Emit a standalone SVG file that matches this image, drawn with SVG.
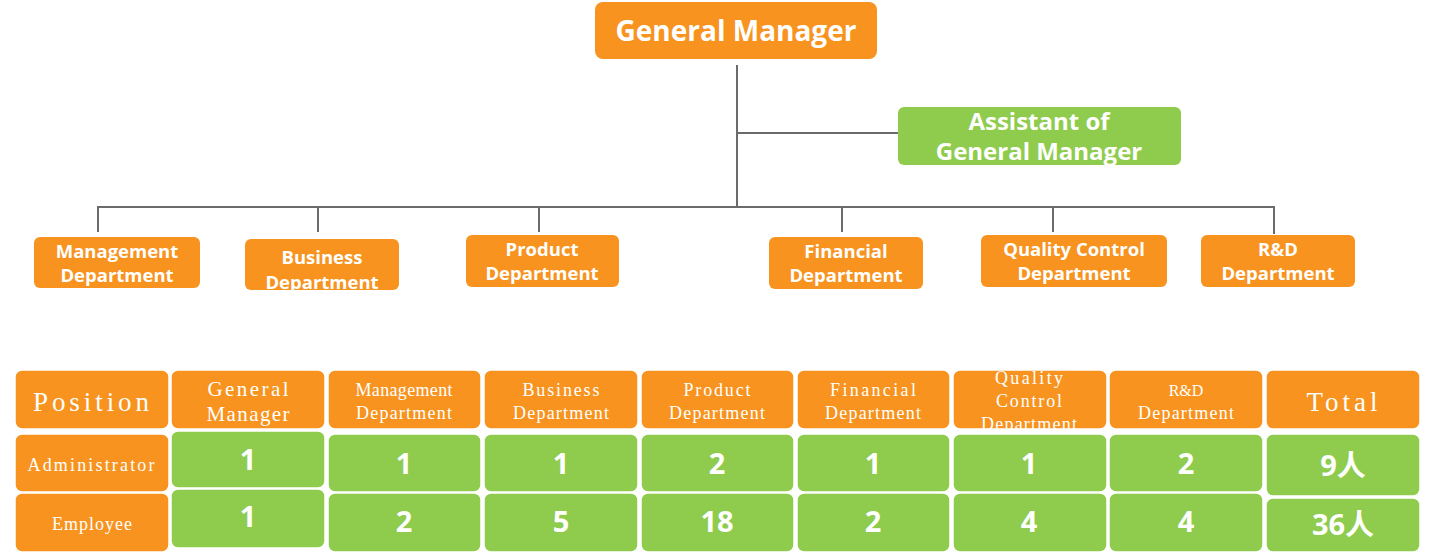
<svg xmlns="http://www.w3.org/2000/svg" width="1440" height="558" viewBox="0 0 1440 558">
<style>
.or{fill:#F7931E}
.gr{fill:#8FCC4D}
.cell{stroke:#ffffff;stroke-width:1.5}
.t{font-family:"Open Sans","Liberation Sans",sans-serif;font-weight:bold;fill:#fff;text-anchor:middle}
.m{font-family:"Liberation Serif","DejaVu Serif",serif;fill:#fff;text-anchor:middle}
.n{font-family:"Open Sans","Noto Sans CJK SC",sans-serif;font-weight:bold;fill:#fff;text-anchor:middle;font-size:29px}
.c{stroke:#6b6b6b;stroke-width:2;fill:none}
</style>
<rect width="1440" height="558" fill="#fff"/>
<g id="connectors">
<path class="c" d="M737 65V207M737 133H898M98 232V207H1274V234M318 207V232M539 207V232M842 207V232M1053 207V232"/>
</g>
<g id="gm"><rect class="or" x="595" y="2" width="282" height="57" rx="8"/><text class="t" x="736" y="41" font-size="28">General Manager</text></g>
<g id="assistant"><rect class="gr" x="898" y="107" width="283" height="58" rx="6"/><text class="t" x="1039" y="130" font-size="24">Assistant of</text><text class="t" x="1039" y="160" font-size="24">General Manager</text></g>
<g id="dept-mgmt"><rect class="or" x="34" y="237" width="166" height="51" rx="6"/><text class="t" x="117" y="258" font-size="18.5">Management</text><text class="t" x="117" y="282" font-size="18.5">Department</text></g>
<g id="dept-bus"><rect class="or" x="245" y="239" width="154" height="51" rx="6"/><text class="t" x="322" y="264" font-size="18.5">Business</text><text class="t" x="322" y="289" font-size="18.5">Department</text></g>
<g id="dept-prod"><rect class="or" x="466" y="235" width="153" height="52" rx="6"/><text class="t" x="542" y="256" font-size="18.5">Product</text><text class="t" x="542" y="280" font-size="18.5">Department</text></g>
<g id="dept-fin"><rect class="or" x="769" y="237" width="154" height="52" rx="6"/><text class="t" x="846" y="258" font-size="18.5">Financial</text><text class="t" x="846" y="282" font-size="18.5">Department</text></g>
<g id="dept-qc"><rect class="or" x="981" y="235" width="186" height="52" rx="6"/><text class="t" x="1074" y="256" font-size="18.5">Quality Control</text><text class="t" x="1074" y="280" font-size="18.5">Department</text></g>
<g id="dept-rd"><rect class="or" x="1201" y="235" width="154" height="52" rx="6"/><text class="t" x="1278" y="256" font-size="18.5">R&amp;D</text><text class="t" x="1278" y="280" font-size="18.5">Department</text></g>

<g id="table">
<g id="h-pos"><rect class="or cell" x="15" y="370" width="154" height="59" rx="7"/><text class="m" x="91" y="411" font-size="27" textLength="116" lengthAdjust="spacing">Position</text></g>
<g id="h-gm"><rect class="or cell" x="171" y="370" width="154" height="59" rx="7"/><text class="m" x="248" y="396" font-size="21" textLength="81" lengthAdjust="spacing">General</text><text class="m" x="248" y="421" font-size="21" textLength="83" lengthAdjust="spacing">Manager</text></g>
<g id="h-mgmt"><rect class="or cell" x="328" y="370" width="153" height="59" rx="7"/><text class="m" x="404" y="396" font-size="18" textLength="97" lengthAdjust="spacing">Management</text><text class="m" x="404" y="419" font-size="18" textLength="96" lengthAdjust="spacing">Department</text></g>
<g id="h-bus"><rect class="or cell" x="484" y="370" width="154" height="59" rx="7"/><text class="m" x="561" y="396" font-size="18" textLength="77" lengthAdjust="spacing">Business</text><text class="m" x="561" y="419" font-size="18" textLength="96" lengthAdjust="spacing">Department</text></g>
<g id="h-prod"><rect class="or cell" x="641" y="370" width="153" height="59" rx="7"/><text class="m" x="717" y="396" font-size="18" textLength="67" lengthAdjust="spacing">Product</text><text class="m" x="717" y="419" font-size="18" textLength="96" lengthAdjust="spacing">Department</text></g>
<g id="h-fin"><rect class="or cell" x="797" y="370" width="153" height="59" rx="7"/><text class="m" x="873" y="396" font-size="18" textLength="86" lengthAdjust="spacing">Financial</text><text class="m" x="873" y="419" font-size="18" textLength="96" lengthAdjust="spacing">Department</text></g>
<g id="h-qc"><rect class="or cell" x="953" y="370" width="154" height="59" rx="7"/><text class="m" x="1029" y="384" font-size="18" textLength="68" lengthAdjust="spacing">Quality</text><text class="m" x="1029" y="407" font-size="18" textLength="66" lengthAdjust="spacing">Control</text><text class="m" x="1029" y="430" font-size="18" textLength="96" lengthAdjust="spacing">Department</text></g>
<g id="h-rd"><rect class="or cell" x="1109" y="370" width="154" height="59" rx="7"/><text class="m" x="1186" y="396" font-size="16">R&amp;D</text><text class="m" x="1186" y="419" font-size="18" textLength="96" lengthAdjust="spacing">Department</text></g>
<g id="h-total"><rect class="or cell" x="1266" y="370" width="154" height="59" rx="7"/><text class="m" x="1342" y="411" font-size="27" textLength="71" lengthAdjust="spacing">Total</text></g>

<g id="r-admin"><rect class="or cell" x="15" y="434" width="154" height="58" rx="7"/><text class="m" x="91" y="471" font-size="18" textLength="127" lengthAdjust="spacing">Administrator</text></g>
<g id="r-emp"><rect class="or cell" x="15" y="493" width="154" height="59" rx="7"/><text class="m" x="92" y="530" font-size="18" textLength="80" lengthAdjust="spacing">Employee</text></g>

<g id="a-gm"><rect class="gr cell" x="171" y="431" width="154" height="57" rx="7"/><text class="n" x="248" y="470">1</text></g>
<g id="e-gm"><rect class="gr cell" x="171" y="489" width="154" height="59" rx="7"/><text class="n" x="248" y="527">1</text></g>
<g id="a-mgmt"><rect class="gr cell" x="328" y="434" width="153" height="58" rx="7"/><text class="n" x="404" y="474">1</text></g>
<g id="e-mgmt"><rect class="gr cell" x="328" y="493" width="153" height="59" rx="7"/><text class="n" x="404" y="532">2</text></g>
<g id="a-bus"><rect class="gr cell" x="484" y="434" width="154" height="58" rx="7"/><text class="n" x="561" y="474">1</text></g>
<g id="e-bus"><rect class="gr cell" x="484" y="493" width="154" height="59" rx="7"/><text class="n" x="561" y="532">5</text></g>
<g id="a-prod"><rect class="gr cell" x="641" y="434" width="153" height="58" rx="7"/><text class="n" x="717" y="474">2</text></g>
<g id="e-prod"><rect class="gr cell" x="641" y="493" width="153" height="59" rx="7"/><text class="n" x="717" y="532">18</text></g>
<g id="a-fin"><rect class="gr cell" x="797" y="434" width="153" height="58" rx="7"/><text class="n" x="873" y="474">1</text></g>
<g id="e-fin"><rect class="gr cell" x="797" y="493" width="153" height="59" rx="7"/><text class="n" x="873" y="532">2</text></g>
<g id="a-qc"><rect class="gr cell" x="953" y="434" width="154" height="58" rx="7"/><text class="n" x="1029" y="474">1</text></g>
<g id="e-qc"><rect class="gr cell" x="953" y="493" width="154" height="59" rx="7"/><text class="n" x="1029" y="532">4</text></g>
<g id="a-rd"><rect class="gr cell" x="1109" y="434" width="154" height="58" rx="7"/><text class="n" x="1186" y="474">2</text></g>
<g id="e-rd"><rect class="gr cell" x="1109" y="493" width="154" height="59" rx="7"/><text class="n" x="1186" y="532">4</text></g>
<g id="a-total"><rect class="gr cell" x="1266" y="434" width="154" height="62" rx="7"/><text class="n" x="1343" y="476">9人</text></g>
<g id="e-total"><rect class="gr cell" x="1266" y="498" width="154" height="54" rx="7"/><text class="n" x="1343" y="535">36人</text></g>
</g>
</svg>
